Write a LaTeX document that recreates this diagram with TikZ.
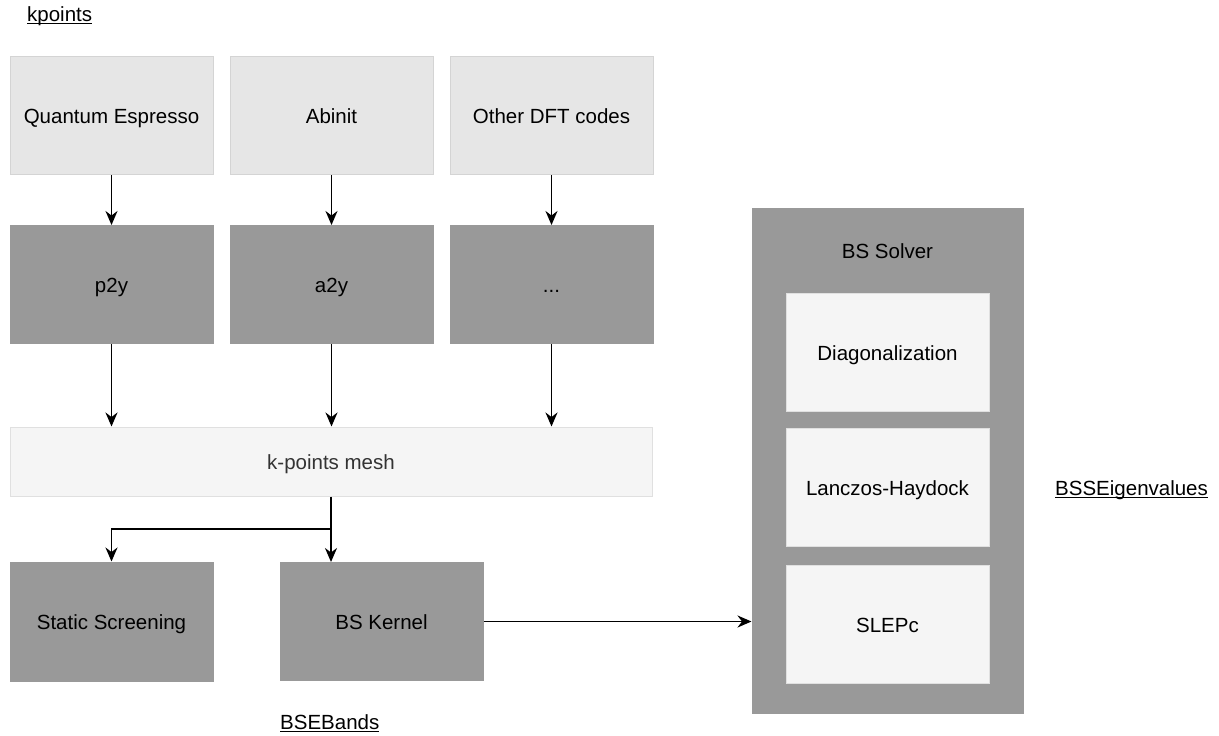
\documentclass[tikz,border=0pt]{standalone}
\usepackage{fontspec}
\setmainfont{Liberation Sans}
\usetikzlibrary{positioning,arrows.meta}
\newsavebox\ulbox
\newcommand{\ultext}[1]{\sbox\ulbox{#1}\usebox\ulbox\llap{\rule[-3pt]{\wd\ulbox}{1.2pt}}}
\definecolor{codefill}{HTML}{E6E6E6}
\definecolor{codeline}{HTML}{D4D4D4}
\definecolor{convfill}{HTML}{999999}
\definecolor{palefill}{HTML}{F5F5F5}
\definecolor{paleline}{HTML}{E0E0E0}
\begin{document}
\begin{tikzpicture}[x=1pt,y=-1pt,
box/.style = {minimum width=203pt, minimum height=118pt, inner sep=0pt, text height=16pt, text depth=0pt, line width=1pt, font=\fontsize{20.5}{24}\selectfont},
code/.style = {box, fill=codefill, draw=codeline},
conv/.style = {box, fill=convfill, draw=convfill},
pale/.style = {box, fill=palefill, draw=paleline},
tag/.style = {inner sep=0pt, anchor=base west, font=\fontsize{20.5}{24}\selectfont},
arr/.style = {-{Stealth[length=14pt,width=12pt]}, line width=1.9pt},
node distance={50pt and 16pt}]
\useasboundingbox (0,0) rectangle (1219,736);
\node[code] (qe) at (111.5,115.5) {Quantum Espresso};
\node[code] (abinit) [right=of qe] {Abinit};
\node[code] (other) [right=of abinit] {Other DFT codes};
\node[conv] (p2y) [below=of qe] {p2y};
\node[conv] (a2y) [below=of abinit] {a2y};
\node[conv] (dots) [below=of other] {...};
\node[pale, minimum width=642pt, minimum height=69pt, text=black!80] (mesh) at (331,461.5) {k-points mesh};
\node[conv, minimum height=119pt] (static) at (111.5,621.5) {Static Screening};
\node[conv] (kernel) at (381.5,621.5) {BS Kernel};
\node[conv, minimum width=271pt, minimum height=505pt] (solver) at (887.5,460.5) {};
\node[tag, anchor=center] (solvername) at (887.5,251.5) {BS Solver};
\node[pale] (diag) at (887.5,352) {Diagonalization};
\node[pale] (lanczos) [below=16pt of diag] {Lanczos-Haydock};
\node[pale] (slepc) [below=18pt of lanczos] {SLEPc};
\node[tag] (kpoints) at (27,21) {\ultext{kpoints}};
\node[tag] (bands) at (280,729) {\ultext{BSEBands}};
\node[tag] (eigen) at (1055,495) {\ultext{BSSEigenvalues}};
\coordinate (split) at (331,529);
\foreach \a/\b in {qe/p2y, abinit/a2y, other/dots}
  \draw[arr] (\a) -- (\b);
\foreach \a in {p2y, a2y, dots}
  \draw[arr] (\a) -- (\a |- mesh.north);
\draw[arr] (mesh) -- (mesh.south |- kernel.north);
\draw[arr] (split) -| (static);
\draw[arr] (kernel) -- (kernel -| solver.west);
\end{tikzpicture}
\end{document}
